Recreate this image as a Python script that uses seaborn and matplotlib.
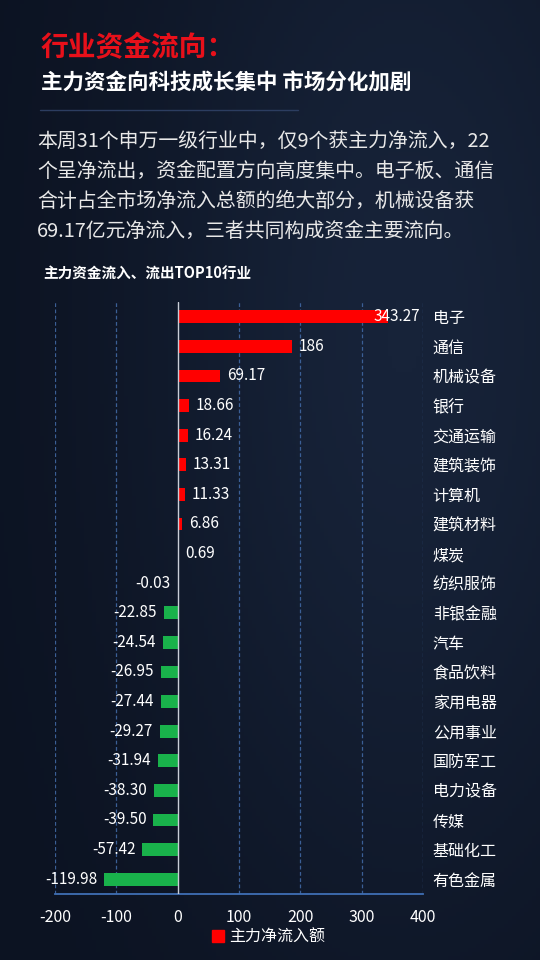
import numpy as np
import matplotlib.pyplot as plt
import seaborn as sns
from matplotlib.lines import Line2D
from matplotlib.patches import Patch
from matplotlib.ticker import MultipleLocator
from matplotlib.colors import LinearSegmentedColormap

# data (亿元)
industries = ['电子', '通信', '机械设备', '银行', '交通运输', '建筑装饰', '计算机', '建筑材料', '煤炭', '纺织服饰',
              '非银金融', '汽车', '食品饮料', '家用电器', '公用事业', '国防军工', '电力设备', '传媒', '基础化工', '有色金属']
net_inflow = [343.27, 186, 69.17, 18.66, 16.24, 13.31, 11.33, 6.86, 0.69, -0.03,
              -22.85, -24.54, -26.95, -27.44, -29.27, -31.94, -38.30, -39.50, -57.42, -119.98]
value_labels = ['343.27', '186', '69.17', '18.66', '16.24', '13.31', '11.33', '6.86', '0.69', '-0.03',
                '-22.85', '-24.54', '-26.95', '-27.44', '-29.27', '-31.94', '-38.30', '-39.50', '-57.42', '-119.98']
x_ticks = [-200, -100, 0, 100, 200, 300, 400]

title = '行业资金流向：'
subtitle = '主力资金向科技成长集中 市场分化加剧'
paragraph = ['本周31个申万一级行业中，仅9个获主力净流入，22',
             '个呈净流出，资金配置方向高度集中。电子板、通信',
             '合计占全市场净流入总额的绝大部分，机械设备获',
             '69.17亿元净流入，三者共同构成资金主要流向。']
chart_title = '主力资金流入、流出TOP10行业'
legend_label = '主力净流入额'

RED = '#ff0000'
GREEN = '#19b24b'
BG = '#111a2d'

sns.set_style('dark')
plt.rcParams['font.family'] = ['Noto Sans CJK SC', 'DejaVu Sans']
plt.rcParams['axes.unicode_minus'] = False

fig = plt.figure(figsize=(5.4, 9.6), dpi=100, facecolor=BG)

# soft background gradient
bg = fig.add_axes([0, 0, 1, 1], zorder=-10)
yy, xx = np.mgrid[0:1:240j, 0:1:135j]
glow = np.exp(-((xx - 0.75) ** 2 / 0.25 + (yy - 0.35) ** 2 / 0.4))
cmap = LinearSegmentedColormap.from_list('bg', ['#0c1322', '#172339'])
bg.imshow(glow, cmap=cmap, aspect='auto', extent=[0, 1, 0, 1])
bg.axis('off')

# header texts
fig.text(41 / 540, 1 - 48 / 960, title, color='#e8101a', fontsize=20, fontweight='bold', va='center')
fig.text(41 / 540, 1 - 83 / 960, subtitle, color='white', fontsize=15.5, fontweight='bold', va='center')
fig.add_artist(Line2D([40 / 540, 298 / 540], [1 - 110 / 960] * 2, color='#2c3d60', lw=1))
for k, line in enumerate(paragraph):
    fig.text(37 / 540, 1 - (141 + 30 * k) / 960, line, color='#e8e8e8', fontsize=14.3, va='center')
fig.text(43 / 540, 1 - 274 / 960, chart_title, color='white', fontsize=10.5, fontweight='bold', va='center')

# bar chart
ax = fig.add_axes([55 / 540, 1 - 894 / 960, 368 / 540, 592 / 960])
ax.set_facecolor('none')
direction = ['流入' if v >= 0 else '流出' for v in net_inflow]
sns.barplot(x=net_inflow, y=industries, hue=direction, palette={'流入': RED, '流出': GREEN},
            orient='h', width=0.43, dodge=False, legend=False, saturation=1, ax=ax, zorder=3,
            linewidth=0, edgecolor='none')

ax.set_xlim(x_ticks[0], x_ticks[-1])
ax.set_ylim(len(industries) - 0.5, -0.5)
ax.set_xticks(x_ticks)
ax.xaxis.set_minor_locator(MultipleLocator(20))
ax.set_xlabel('')
ax.set_ylabel('')

for i, (v, s) in enumerate(zip(net_inflow, value_labels)):
    if v >= 0 and v > 0.8 * x_ticks[-1]:
        ax.annotate(s, (x_ticks[-1], i), xytext=(-2, 0), textcoords='offset points',
                    ha='right', va='center', color='white', fontsize=11, zorder=5)
    elif v >= 0:
        ax.annotate(s, (v, i), xytext=(5, 0), textcoords='offset points',
                    ha='left', va='center', color='white', fontsize=11, zorder=5)
    else:
        ax.annotate(s, (v, i), xytext=(-5, 0), textcoords='offset points',
                    ha='right', va='center', color='white', fontsize=11, zorder=5)

# grid and axis styling
for t in x_ticks:
    if t == 0:
        ax.axvline(0, color='#c9ced8', lw=1, zorder=4)
    else:
        ax.axvline(t, color='#3b5f96', lw=0.9, ls=(0, (3, 2)), zorder=1)

for side in ['top', 'left', 'right']:
    ax.spines[side].set_visible(False)
ax.spines['bottom'].set_color('#3f6fb5')
ax.spines['bottom'].set_linewidth(1.3)

ax.yaxis.tick_right()
ax.tick_params(axis='y', length=0, pad=7, labelsize=11.5, labelcolor='white')
ax.tick_params(axis='x', which='major', direction='inout', length=7, color='#3f6fb5',
               labelsize=11.5, labelcolor='white', pad=7)
ax.tick_params(axis='x', which='minor', direction='inout', length=5, color='#3f6fb5')
ax.grid(False)

fig.legend(handles=[Patch(color=RED, label=legend_label)], loc='center',
           bbox_to_anchor=(0.497, 1 - 937 / 960), frameon=False, handlelength=0.8,
           handleheight=0.8, handletextpad=0.3, fontsize=11.5, labelcolor='white')

fig.savefig('out.png', dpi=100, facecolor=BG)
